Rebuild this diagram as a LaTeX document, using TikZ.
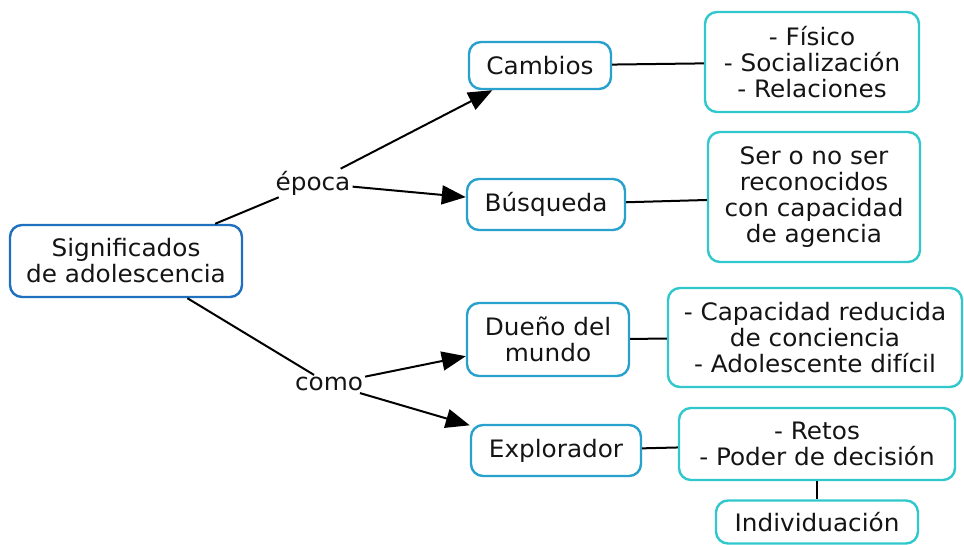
\documentclass[tikz,border=0pt]{standalone}
\usepackage{fontspec}
\setmainfont{DejaVu Sans}[FakeStretch=1.03]
\usetikzlibrary{arrows.meta}
\definecolor{rootc}{RGB}{32,112,192}
\definecolor{midc}{RGB}{40,162,204}
\definecolor{leafc}{RGB}{48,200,204}
\definecolor{txt}{RGB}{20,20,20}
\begin{document}
\begin{tikzpicture}[x=1pt,y=-1pt,
  every node/.style={font=\fontsize{24}{26}\selectfont, text=txt, align=center},
  box/.style={draw, line width=2.4pt, rounded corners=12pt, inner sep=0pt},
  rootbox/.style={box, draw=rootc},
  midbox/.style={box, draw=midc},
  leafbox/.style={box, draw=leafc},
  lbl/.style={inner sep=2pt},
  conn/.style={line width=2pt, draw=black},
  arr/.style={conn, -{Triangle[length=24pt,width=19pt]}}
]
\useasboundingbox (0,0) rectangle (964,545);
\node[rootbox, minimum width=232pt, minimum height=72pt] (root) at (126,261) {Significados\\de adolescencia};
\node[midbox, minimum width=142pt, minimum height=47pt] (cam) at (540,65.5) {Cambios};
\node[midbox, minimum width=158pt, minimum height=51pt] (bus) at (546,204.5) {Búsqueda};
\node[midbox, minimum width=162pt, minimum height=73pt] (due) at (548,339.5) {Dueño del\\mundo};
\node[midbox, minimum width=170pt, minimum height=51pt] (exp) at (556,450.5) {Explorador};
\node[leafbox, minimum width=214pt, minimum height=100pt] (fis) at (812,62) {- Físico\\- Socialización\\- Relaciones};
\node[leafbox, minimum width=212pt, minimum height=130pt] (ser) at (814,197) {Ser o no ser\\reconocidos\\con capacidad\\de agencia};
\node[leafbox, minimum width=294pt, minimum height=99pt] (cap) at (815,337.5) {- Capacidad reducida\\de conciencia\\- Adolescente difícil};
\node[leafbox, minimum width=276pt, minimum height=72pt] (ret) at (817,444) {- Retos\\- Poder de decisión};
\node[leafbox, minimum width=202pt, minimum height=43pt] (ind) at (817,522) {Individuación};
\node[lbl] (epo) at (313,183) {época};
\node[lbl] (como) at (329,384) {como};
\draw[conn] (root) -- (epo);
\draw[arr] (epo) -- (cam);
\draw[arr] (epo) -- (bus);
\draw[conn] (root) -- (como);
\draw[arr] (como) -- (due);
\draw[arr] (como) -- (exp);
\draw[conn] (cam) -- (fis);
\draw[conn] (bus) -- (ser);
\draw[conn] (due) -- (cap);
\draw[conn] (exp) -- (ret);
\draw[conn] (ret) -- (ind);
\end{tikzpicture}
\end{document}
